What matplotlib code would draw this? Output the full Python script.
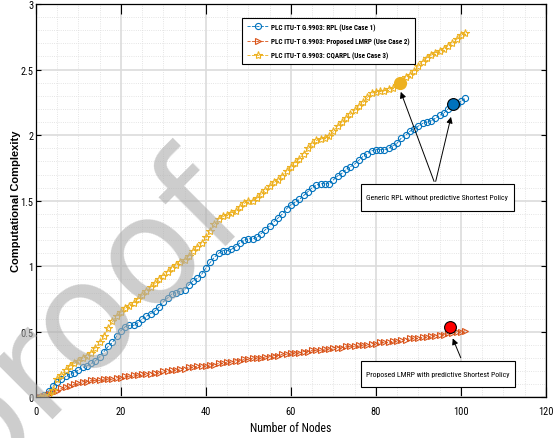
"""Computational complexity vs number of nodes (RPL / LMRP / CQARPL)."""
import matplotlib

matplotlib.use("Agg")
import matplotlib.pyplot as plt
from matplotlib import font_manager
from matplotlib.patches import Rectangle

# the reference uses a narrow sans; take one if installed, else Arial metrics
_names = {f.name for f in font_manager.fontManager.ttflist}
NARROW_FAMILY = "Liberation Sans"
for cand in ["Liberation Sans Narrow", "Roboto Condensed",
             "DejaVu Sans Condensed", "Open Sans Condensed"]:
    if cand in _names:
        NARROW_FAMILY = cand
        break
IS_NARROW = NARROW_FAMILY != "Liberation Sans"
NARROW = [NARROW_FAMILY, "DejaVu Sans"]
plt.rcParams["font.family"] = NARROW

# ---- data ----
nodes = list(range(1, 102))

rpl = [
    0.00, 0.02, 0.05, 0.09, 0.12, 0.14, 0.16, 0.18, 0.19, 0.21,
    0.23, 0.24, 0.26, 0.28, 0.31, 0.35, 0.39, 0.42, 0.47, 0.51,
    0.54, 0.55, 0.55, 0.57, 0.60, 0.62, 0.64, 0.66, 0.69, 0.73,
    0.76, 0.79, 0.80, 0.81, 0.82, 0.86, 0.89, 0.91, 0.94, 0.99,
    1.03, 1.07, 1.10, 1.12, 1.12, 1.13, 1.15, 1.18, 1.20, 1.21,
    1.21, 1.22, 1.25, 1.28, 1.31, 1.34, 1.37, 1.40, 1.44, 1.47,
    1.49, 1.51, 1.54, 1.57, 1.60, 1.62, 1.63, 1.63, 1.63, 1.66,
    1.69, 1.71, 1.74, 1.76, 1.78, 1.81, 1.84, 1.86, 1.88, 1.89,
    1.89, 1.89, 1.90, 1.92, 1.94, 1.98, 2.00, 2.03, 2.05, 2.07,
    2.09, 2.10, 2.11, 2.13, 2.15, 2.17, 2.20, 2.22, 2.24, 2.26,
    2.28,
]

lmrp = [
    0.00, 0.01, 0.03, 0.04, 0.05, 0.07, 0.08, 0.09, 0.10, 0.11,
    0.12, 0.12, 0.13, 0.13, 0.13, 0.14, 0.14, 0.14, 0.15, 0.15,
    0.16, 0.16, 0.17, 0.17, 0.18, 0.18, 0.18, 0.19, 0.19, 0.20,
    0.20, 0.21, 0.21, 0.22, 0.22, 0.23, 0.23, 0.24, 0.24, 0.24,
    0.25, 0.25, 0.26, 0.26, 0.27, 0.27, 0.28, 0.28, 0.29, 0.29,
    0.30, 0.30, 0.30, 0.31, 0.31, 0.32, 0.32, 0.33, 0.33, 0.34,
    0.34, 0.34, 0.35, 0.35, 0.36, 0.36, 0.36, 0.37, 0.37, 0.38,
    0.38, 0.38, 0.39, 0.39, 0.39, 0.40, 0.40, 0.40, 0.41, 0.41,
    0.42, 0.42, 0.42, 0.43, 0.43, 0.44, 0.44, 0.45, 0.45, 0.45,
    0.46, 0.46, 0.47, 0.47, 0.48, 0.48, 0.49, 0.49, 0.50, 0.50,
    0.51,
]

cqarpl = [
    0.00, 0.01, 0.02, 0.06, 0.14, 0.17, 0.21, 0.24, 0.26, 0.28,
    0.30, 0.32, 0.34, 0.38, 0.42, 0.47, 0.53, 0.58, 0.62, 0.65,
    0.68, 0.70, 0.72, 0.75, 0.78, 0.81, 0.84, 0.87, 0.90, 0.93,
    0.96, 0.99, 1.01, 1.03, 1.05, 1.08, 1.12, 1.15, 1.18, 1.22,
    1.27, 1.32, 1.36, 1.38, 1.39, 1.41, 1.42, 1.45, 1.48, 1.50,
    1.50, 1.52, 1.55, 1.58, 1.61, 1.64, 1.66, 1.69, 1.73, 1.76,
    1.79, 1.82, 1.86, 1.90, 1.93, 1.96, 1.97, 1.98, 1.99, 2.03,
    2.07, 2.10, 2.13, 2.16, 2.19, 2.22, 2.25, 2.29, 2.32, 2.33,
    2.34, 2.34, 2.35, 2.36, 2.38, 2.41, 2.44, 2.46, 2.49, 2.53,
    2.56, 2.59, 2.61, 2.63, 2.64, 2.66, 2.68, 2.70, 2.73, 2.76,
    2.78,
]

series_labels = [
    "PLC ITU-T G.9903: RPL (Use Case 1)",
    "PLC ITU-T G.9903: Proposed LMRP (Use Case 2)",
    "PLC ITU-T G.9903: CQARPL (Use Case 3)",
]

# highlighted points for the callouts
hl_rpl = (98.2, 2.24)
hl_cqarpl = (85.6, 2.40)
hl_lmrp = (97.4, 0.535)

xticks = [0, 20, 40, 60, 80, 100, 120]
yticks = [0, 0.5, 1, 1.5, 2, 2.5, 3]
ytick_labels = ["0", "0.5", "1", "1.5", "2", "2.5", "3"]

BLUE, ORANGE, YELLOW = "#0072BD", "#D95319", "#EDB120"

# font sizes (narrow font can be drawn larger for the same width)
FS_TICK = 7.5 if IS_NARROW else 6.8
FS_XLABEL = 8.5 if IS_NARROW else 7.5
FS_LEG = 5.1 if IS_NARROW else 5.0
FS_NOTE = 5.6 if IS_NARROW else 5.0

fig = plt.figure(figsize=(5.53, 4.39), dpi=100)
ax = fig.add_axes([0.0651, 0.0923, 0.9222, 0.8963])

ax.plot(nodes, rpl, "--", color=BLUE, lw=0.6, marker="o", ms=4.4,
        mfc="none", mew=0.8, label=series_labels[0])
ax.plot(nodes, lmrp, "--", color=ORANGE, lw=0.6, marker=">", ms=4.6,
        mfc="none", mew=0.8, label=series_labels[1])
ax.plot(nodes, cqarpl, "--", color=YELLOW, lw=0.6, marker="*", ms=6,
        mfc="none", mew=0.8, label=series_labels[2])

# callout markers
ax.plot(*hl_rpl, "o", ms=8.5, mfc=BLUE, mec="k", mew=0.8, zorder=5)
ax.plot(*hl_cqarpl, "o", ms=8.5, mfc=YELLOW, mec=YELLOW, zorder=5)
ax.plot(*hl_lmrp, "o", ms=8.5, mfc="#ff0000", mec="k", mew=0.8, zorder=5)

ax.set_xlim(0, 120)
ax.set_ylim(0, 3)
ax.set_xticks(xticks)
ax.set_yticks(yticks)
ax.set_yticklabels(ytick_labels)
ax.set_xticks(range(0, 121, 5), minor=True)
ax.set_yticks([i / 10 for i in range(31)], minor=True)
ax.tick_params(which="both", direction="in", top=True, right=True,
               labelsize=FS_TICK, colors="k")
ax.tick_params(axis="x", which="major", length=7, width=0.8, pad=6)
ax.tick_params(axis="y", which="major", length=3.6, width=0.8, pad=2)
ax.tick_params(which="minor", length=0)
ax.grid(which="major", color="#dcdcdc", lw=1.2)
ax.grid(which="minor", color="#dcdcdc", lw=0.6, ls=":")
ax.set_axisbelow(True)
for s in ax.spines.values():
    s.set_linewidth(0.9)

ax.set_xlabel("Number of Nodes", fontsize=FS_XLABEL, labelpad=4)
ax.set_ylabel("Computational Complexity", fontsize=8, fontweight="bold",
              family="Liberation Sans")
ax.yaxis.set_label_coords(-0.03, 0.5)

leg = ax.legend(loc="upper left", bbox_to_anchor=(0.4376, 0.9567),
                bbox_transform=fig.transFigure, borderaxespad=0,
                fancybox=False, framealpha=1, edgecolor="k",
                prop={"size": FS_LEG, "weight": "bold", "family": NARROW},
                handlelength=3.0, handletextpad=0.4, borderpad=0.7,
                labelspacing=0.85)
leg.get_frame().set_linewidth(0.8)

# callout boxes + arrows
arrow = dict(arrowstyle="-|>", color="k", lw=0.7, mutation_scale=9)
ax.add_patch(Rectangle((76.4, 1.424), 36.1, 0.203, fc="white", ec="k",
                       lw=0.8, zorder=6))
ax.text(94.45, 1.526, "Generic RPL without predictive Shortest Policy",
        ha="center", va="center", fontsize=FS_NOTE, zorder=7)
ax.annotate("", xy=(85.6, 2.35), xytext=(93.9, 1.627), arrowprops=arrow,
            zorder=6)
ax.annotate("", xy=(97.8, 2.16), xytext=(93.9, 1.627), arrowprops=arrow,
            zorder=6)

ax.add_patch(Rectangle((76.4, 0.078), 36.3, 0.202, fc="white", ec="k",
                       lw=0.8, zorder=6))
ax.text(94.5, 0.179, "Proposed LMRP with predictive Shortest Policy",
        ha="center", va="center", fontsize=FS_NOTE, zorder=7)
ax.annotate("", xy=(97.8, 0.47), xytext=(100.2, 0.283), arrowprops=arrow,
            zorder=6)

# watermark
fig.text(0.146, 0.273, "proof", fontsize=108, family="DejaVu Sans",
         color="#acacac", alpha=0.6, rotation=45, ha="center", va="center",
         zorder=10)

fig.savefig("out.png", dpi=100)
plt.close(fig)
